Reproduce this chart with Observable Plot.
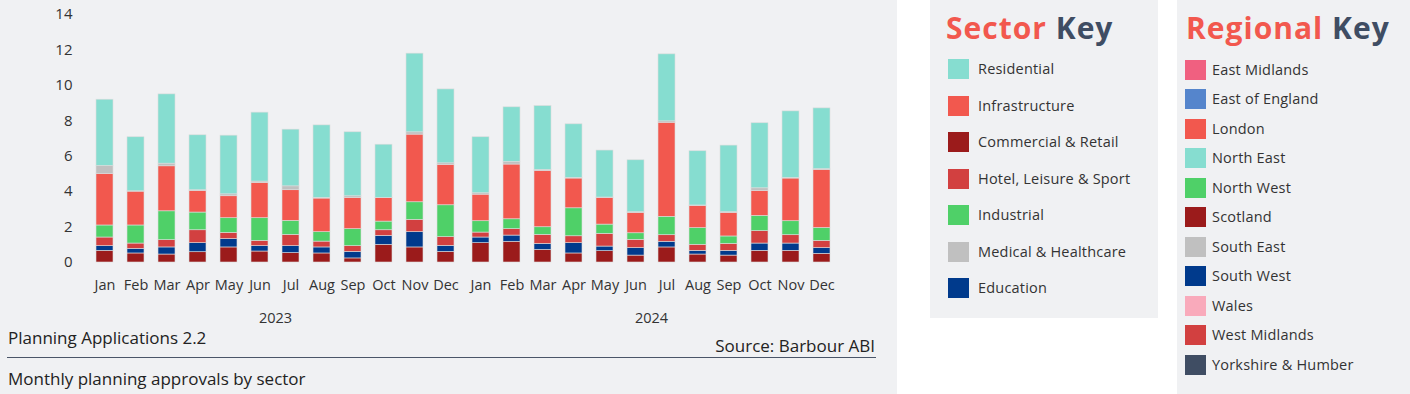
<!DOCTYPE html>
<html>
<head>
<meta charset="utf-8">
<script src="https://cdn.jsdelivr.net/npm/d3@7"></script>
<script src="https://cdn.jsdelivr.net/npm/@observablehq/plot@0.6"></script>
<style>
  html, body { margin: 0; padding: 0; background: #ffffff; width: 1410px; height: 394px; overflow: hidden; font-family: "Open Sans", sans-serif; }
  #panel { position: absolute; left: 0; top: 0; width: 897px; height: 394px; background: #f0f1f3; }
  #chart { position: absolute; left: 0; top: 0; }
  .cap { position: absolute; font-size: 17px; color: #222; white-space: nowrap; }
  #rule { position: absolute; left: 7px; top: 357px; width: 869px; height: 0; border-top: 1.5px solid #4a5568; }
  .box { position: absolute; top: 0; background: #f0f1f3; }
  .ktitle { position: absolute; top: 8px; font-size: 30px; font-weight: 700; white-space: nowrap; line-height: 40px; letter-spacing: 1px; }
  .ktitle .a { color: #f2584e; }
  .ktitle .b { color: #3f4d63; }
  .item { position: absolute; white-space: nowrap; font-size: 14.5px; color: #333; line-height: 20px; letter-spacing: 0.2px; }
  .sw { position: absolute; width: 21px; height: 20px; }
</style>
</head>
<body>
<div id="panel"></div>
<div id="chart"></div>
<div class="cap" style="left:8px; top:326px;">Planning Applications 2.2</div>
<div class="cap" style="right:535px; top:334px;">Source: Barbour ABI</div>
<div id="rule"></div>
<div class="cap" style="left:8px; top:367px;">Monthly planning approvals by sector</div>
<div class="box" id="sectorBox" style="left:930px; width:228px; height:318px;">
  <div class="ktitle" style="left:16px;"><span class="a">Sector</span> <span class="b">Key</span></div>
</div>
<div class="box" id="regionBox" style="left:1177px; width:233px; height:394px;">
  <div class="ktitle" style="left:9px;"><span class="a">Regional</span> <span class="b">Key</span></div>
</div>
<script>
const months = ["Jan","Feb","Mar","Apr","May","Jun","Jul","Aug","Sep","Oct","Nov","Dec"];
const years = ["2023","2024"];
const yTicks = [0,2,4,6,8,10,12,14];

// stacking order, bottom to top
const sectors = ["Commercial & Retail","Education","Hotel, Leisure & Sport","Industrial","Infrastructure","Medical & Healthcare","Residential"];
const sectorColors = ["#9b1b1b","#003a8c","#d24040","#4fd068","#f2584e","#c0c0c0","#86ddd0"];

// Jan 2023 .. Dec 2024
const commercial     = [0.66,0.51,0.45,0.58,0.85,0.62,0.53,0.51,0.23,1.00,0.85,0.60, 1.09,1.17,0.71,0.51,0.64,0.39,0.85,0.45,0.39,0.66,0.66,0.49];
const education      = [0.26,0.26,0.40,0.51,0.47,0.30,0.39,0.34,0.37,0.50,0.86,0.34, 0.32,0.35,0.34,0.58,0.26,0.42,0.32,0.21,0.27,0.41,0.41,0.32];
const hotel          = [0.49,0.30,0.41,0.73,0.35,0.30,0.64,0.33,0.32,0.32,0.70,0.49, 0.28,0.36,0.51,0.39,0.72,0.47,0.37,0.34,0.39,0.70,0.47,0.41];
const industrial     = [0.68,1.02,1.63,1.00,0.83,1.28,0.79,0.53,0.96,0.49,0.99,1.80, 0.64,0.56,0.43,1.58,0.52,0.37,1.04,0.94,0.42,0.86,0.79,0.73];
const infrastructure = [2.91,1.91,2.54,1.22,1.24,1.99,1.73,1.90,1.77,1.32,3.82,2.28, 1.50,3.09,3.18,1.68,1.49,1.15,5.31,1.24,1.33,1.41,2.41,3.28];
const medical        = [0.45,0.02,0.15,0.04,0.11,0.08,0.22,0.04,0.09,0.02,0.13,0.09, 0.08,0.15,0.06,0.04,0.04,0.04,0.08,0.04,0.04,0.15,0.04,0.04];
const residential    = [3.74,3.05,3.91,3.10,3.31,3.89,3.20,4.09,3.61,3.00,4.44,4.17, 3.16,3.08,3.60,3.02,2.65,2.93,3.78,3.06,3.76,3.67,3.75,3.43];

// legend order for the sector key
const sectorKey = ["Residential","Infrastructure","Commercial & Retail","Hotel, Leisure & Sport","Industrial","Medical & Healthcare","Education"];

const regions = ["East Midlands","East of England","London","North East","North West","Scotland","South East","South West","Wales","West Midlands","Yorkshire & Humber"];
const regionColors = ["#f06080","#5585cc","#f2584e","#86ddd0","#4fd068","#9b1b1b","#c0c0c0","#003a8c","#f9aabb","#d24040","#3f4d63"];

const series = [commercial, education, hotel, industrial, infrastructure, medical, residential];
const data = [];
years.forEach((yr, yi) => {
  months.forEach((m, mi) => {
    sectors.forEach((s, si) => {
      data.push({year: yr, month: m, sector: s, value: series[si][yi * 12 + mi]});
    });
  });
});

const chart = Plot.plot({
  width: 880,
  height: 325,
  marginTop: 14,
  marginBottom: 63,
  marginLeft: 87,
  marginRight: 41,
  style: {fontFamily: "Open Sans, sans-serif", fontSize: "14px", color: "#333", background: "transparent", overflow: "visible"},
  fx: {domain: years, padding: 0, label: null},
  x: {domain: months, paddingInner: 0.45, paddingOuter: 0.225, label: null},
  y: {domain: [0, 14], label: null},
  color: {domain: sectors, range: sectorColors},
  marks: [
    Plot.barY(data, {fx: "year", x: "month", y: "value", fill: "sector", stroke: "#dcdcdc", strokeWidth: 0.6}),
    Plot.axisY({ticks: yTicks, tickSize: 0, tickPadding: 15, fontSize: 15, label: null}),
    Plot.axisX({tickSize: 0, tickPadding: 17, fontSize: 14.5, label: null}),
    Plot.axisFx({anchor: "bottom", tickSize: 0, tickPadding: 50, fontSize: 14.5, label: null})
  ]
});
document.getElementById("chart").appendChild(chart);

// Sector key
const sb = document.getElementById("sectorBox");
const colorOf = Object.fromEntries(sectors.map((s, i) => [s, sectorColors[i]]));
sectorKey.forEach((s, i) => {
  const cy = 69 + i * 36.5;
  const sw = document.createElement("div");
  sw.className = "sw";
  sw.style.left = "18px"; sw.style.top = (cy - 10) + "px"; sw.style.background = colorOf[s];
  sb.appendChild(sw);
  const t = document.createElement("div");
  t.className = "item";
  t.style.left = "48px"; t.style.top = (cy - 10) + "px";
  t.textContent = s;
  sb.appendChild(t);
});

// Regional key
const rb = document.getElementById("regionBox");
regions.forEach((r, i) => {
  const cy = 69.5 + i * 29.55;
  const sw = document.createElement("div");
  sw.className = "sw";
  sw.style.left = "8px"; sw.style.top = (cy - 10) + "px"; sw.style.background = regionColors[i];
  rb.appendChild(sw);
  const t = document.createElement("div");
  t.className = "item";
  t.style.left = "35px"; t.style.top = (cy - 10) + "px";
  t.textContent = r;
  rb.appendChild(t);
});
</script>
</body>
</html>
